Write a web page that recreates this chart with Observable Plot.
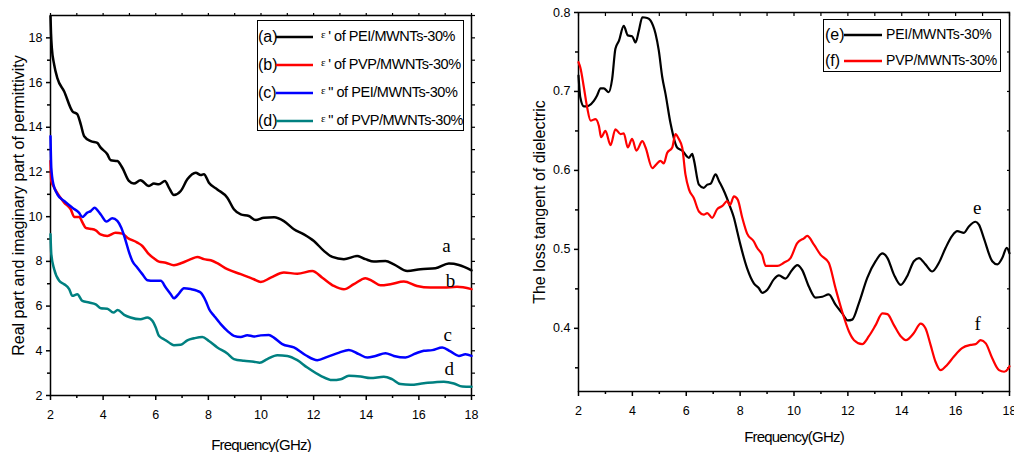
<!DOCTYPE html>
<html>
<head>
<meta charset="utf-8">
<script src="https://cdn.jsdelivr.net/npm/d3@7"></script>
<script src="https://cdn.jsdelivr.net/npm/@observablehq/plot@0.6"></script>
<style>
  html, body { margin: 0; padding: 0; background: #fff; }
  #figure { position: relative; width: 1014px; height: 452px; overflow: hidden;
            font-family: "Liberation Sans", Arial, sans-serif; }
  #figure > svg { position: absolute; top: 0; }
  #figure [aria-label="x-axis label"] text { letter-spacing: -0.8px; }
  .legend { position: absolute; border: 1px solid #000; background: #fff; box-sizing: border-box; }
  .legend .row { position: absolute; left: 0; right: 0; display: block; }
  .legend .key { position: absolute; top: 0; line-height: 1; }
  .legend svg { position: absolute; top: 0; }
  .legend .txt { position: absolute; top: 0; white-space: nowrap; color: #000; line-height: 1; }
  .legend .eps { font-family: "Liberation Serif", "Times New Roman", serif; font-size: 11px;
                 position: relative; top: -3px; margin-right: 3px; }
</style>
</head>
<body>
<div id="figure"></div>
<script>
// ---------- left panel: permittivity, (frequency GHz, value) ----------
const epsRealPEI = [[2.0,18.97],[2.02,18.2],[2.05,17.55],[2.14,16.8],[2.26,16.2],[2.52,15.6],[2.83,14.72],[3.02,14.58],[3.15,14.13],[3.28,13.6],[3.53,13.38],[3.78,13.3],[3.9,13.1],[4.16,12.79],[4.29,12.52],[4.54,12.49],[4.73,12.19],[4.98,11.6],[5.17,11.48],[5.42,11.63],[5.74,11.37],[5.93,11.48],[6.12,11.45],[6.35,11.6],[6.5,11.3],[6.69,10.97],[6.95,11.15],[7.2,11.67],[7.52,11.97],[7.71,11.86],[7.83,11.9],[8.02,11.52],[8.34,11.22],[8.72,10.85],[8.97,10.33],[9.23,10.1],[9.54,10.03],[9.8,9.85],[10.11,9.95],[10.5,9.97],[10.87,9.8],[11.25,9.44],[11.63,9.21],[12.01,8.91],[12.39,8.47],[12.71,8.2],[13.15,8.1],[13.66,8.24],[13.97,8.1],[14.29,7.99],[14.73,8.02],[15.05,7.87],[15.56,7.57],[16.06,7.65],[16.63,7.69],[17.14,7.9],[17.52,7.84],[18.0,7.6]];
const epsRealPVP = [[2.0,12.49],[2.03,11.6],[2.14,11.3],[2.33,10.93],[2.52,10.63],[2.77,10.33],[2.9,9.99],[3.09,9.99],[3.21,9.75],[3.34,9.5],[3.5,9.46],[3.72,9.39],[3.9,9.21],[4.16,9.14],[4.47,9.28],[4.73,9.24],[4.92,9.06],[5.3,8.84],[5.49,8.69],[5.74,8.32],[5.93,8.14],[6.12,7.99],[6.38,7.94],[6.69,7.83],[7.01,7.94],[7.33,8.1],[7.58,8.2],[7.83,8.1],[8.09,8.05],[8.34,7.92],[8.72,7.65],[9.23,7.43],[9.73,7.2],[9.99,7.08],[10.37,7.27],[10.87,7.5],[11.38,7.45],[11.95,7.57],[12.33,7.27],[12.77,6.9],[13.15,6.75],[13.53,6.98],[13.97,7.25],[14.22,7.13],[14.54,6.93],[14.92,6.98],[15.43,7.1],[15.93,6.9],[16.44,6.83],[16.95,6.83],[17.45,6.86],[18.0,6.76]];
const epsImagPEI = [[2.0,13.6],[2.03,12.19],[2.11,11.45],[2.26,11.0],[2.52,10.7],[2.83,10.4],[3.08,10.18],[3.21,9.99],[3.4,10.18],[3.53,10.25],[3.68,10.4],[3.78,10.29],[3.91,10.1],[4.13,9.78],[4.35,9.93],[4.54,9.81],[4.69,9.5],[4.86,8.91],[4.99,8.39],[5.11,8.02],[5.3,7.72],[5.49,7.43],[5.68,7.16],[5.93,7.13],[6.19,7.13],[6.38,6.83],[6.57,6.53],[6.69,6.35],[6.88,6.56],[7.07,6.8],[7.33,6.76],[7.58,6.68],[7.71,6.6],[7.9,6.23],[8.03,5.86],[8.22,5.56],[8.47,5.19],[8.72,4.89],[8.97,4.67],[9.23,4.62],[9.48,4.7],[9.73,4.64],[9.99,4.69],[10.3,4.71],[10.49,4.59],[10.81,4.3],[11.25,4.15],[11.7,3.8],[12.14,3.58],[12.52,3.73],[12.97,3.92],[13.34,4.04],[13.72,3.85],[14.04,3.7],[14.35,3.77],[14.73,3.89],[15.05,3.77],[15.49,3.7],[15.87,3.88],[16.19,4.0],[16.51,4.03],[16.89,4.15],[17.2,3.97],[17.52,3.77],[17.77,3.85],[18.0,3.77]];
const epsImagPVP = [[2.0,9.21],[2.03,8.32],[2.14,7.65],[2.33,7.13],[2.52,6.98],[2.71,6.76],[2.83,6.46],[3.02,6.53],[3.21,6.23],[3.47,6.16],[3.72,6.08],[3.91,5.9],[4.16,5.88],[4.39,5.71],[4.55,5.82],[4.8,5.61],[5.04,5.49],[5.42,5.41],[5.68,5.49],[5.87,5.34],[6.0,5.04],[6.12,4.67],[6.31,4.52],[6.5,4.37],[6.69,4.25],[6.95,4.27],[7.2,4.47],[7.46,4.56],[7.77,4.62],[8.02,4.44],[8.34,4.15],[8.72,3.88],[8.97,3.63],[9.35,3.55],[9.73,3.51],[9.95,3.47],[10.24,3.63],[10.62,3.8],[11.0,3.77],[11.38,3.58],[11.76,3.25],[12.27,2.88],[12.71,2.69],[13.03,2.73],[13.34,2.88],[13.78,2.85],[14.16,2.78],[14.67,2.84],[14.98,2.73],[15.3,2.51],[15.68,2.48],[16.19,2.55],[16.95,2.62],[17.33,2.54],[17.65,2.4],[18.0,2.39]];

// ---------- right panel: loss tangent ----------
const tanPEI = [[2.0,0.72],[2.07,0.692],[2.2,0.681],[2.38,0.682],[2.57,0.688],[2.69,0.695],[2.82,0.704],[2.94,0.704],[3.12,0.699],[3.25,0.716],[3.37,0.754],[3.5,0.764],[3.68,0.783],[3.83,0.771],[3.99,0.77],[4.12,0.762],[4.24,0.777],[4.37,0.794],[4.55,0.793],[4.67,0.79],[4.86,0.773],[4.98,0.752],[5.11,0.718],[5.23,0.697],[5.42,0.659],[5.66,0.629],[5.85,0.625],[6.1,0.616],[6.22,0.621],[6.28,0.614],[6.47,0.582],[6.65,0.578],[6.78,0.582],[6.9,0.583],[7.09,0.595],[7.21,0.587],[7.4,0.574],[7.64,0.553],[7.77,0.54],[7.89,0.523],[8.01,0.506],[8.26,0.476],[8.51,0.457],[8.69,0.451],[8.82,0.445],[9.01,0.449],[9.25,0.462],[9.44,0.467],[9.68,0.463],[9.93,0.474],[10.12,0.48],[10.3,0.474],[10.55,0.453],[10.8,0.439],[11.05,0.44],[11.29,0.443],[11.54,0.43],[11.79,0.419],[12.0,0.41],[12.16,0.411],[12.41,0.432],[12.72,0.464],[13.03,0.485],[13.28,0.495],[13.47,0.489],[13.71,0.468],[13.96,0.455],[14.2,0.466],[14.45,0.485],[14.64,0.489],[14.88,0.481],[15.13,0.472],[15.38,0.483],[15.63,0.502],[15.87,0.517],[16.06,0.523],[16.31,0.521],[16.49,0.529],[16.74,0.535],[16.87,0.531],[17.05,0.514],[17.36,0.485],[17.55,0.481],[17.73,0.489],[17.9,0.502],[18.0,0.495]];
const tanPVP = [[2.0,0.737],[2.07,0.73],[2.2,0.705],[2.32,0.68],[2.45,0.663],[2.63,0.665],[2.76,0.656],[2.84,0.642],[3.0,0.65],[3.19,0.632],[3.37,0.652],[3.56,0.646],[3.68,0.647],[3.83,0.629],[3.99,0.64],[4.15,0.625],[4.37,0.637],[4.49,0.629],[4.74,0.603],[4.9,0.608],[5.04,0.612],[5.17,0.609],[5.29,0.622],[5.48,0.629],[5.6,0.646],[5.72,0.64],[5.85,0.629],[5.97,0.595],[6.1,0.576],[6.28,0.565],[6.47,0.548],[6.65,0.544],[6.78,0.546],[6.96,0.54],[7.15,0.551],[7.34,0.555],[7.52,0.561],[7.62,0.556],[7.77,0.567],[7.91,0.563],[8.08,0.54],[8.26,0.52],[8.51,0.51],[8.63,0.502],[8.82,0.493],[8.95,0.479],[9.13,0.479],[9.38,0.479],[9.62,0.483],[9.87,0.489],[10.12,0.508],[10.37,0.514],[10.49,0.517],[10.74,0.506],[10.99,0.493],[11.29,0.483],[11.54,0.451],[11.79,0.421],[12.04,0.396],[12.23,0.385],[12.53,0.38],[12.78,0.39],[13.03,0.404],[13.28,0.419],[13.47,0.418],[13.71,0.404],[13.96,0.39],[14.15,0.385],[14.45,0.394],[14.7,0.406],[14.88,0.4],[15.07,0.379],[15.25,0.358],[15.44,0.347],[15.69,0.354],[15.93,0.364],[16.24,0.375],[16.56,0.379],[16.74,0.38],[16.93,0.385],[17.12,0.381],[17.36,0.362],[17.61,0.347],[17.8,0.345],[17.95,0.349],[18.0,0.352]];

// series styling and legend entries
const leftKeys    = ["(a)", "(b)", "(c)", "(d)"];
const leftPrimes  = ["'", "'", "\"", "\""];
const leftNames   = ["of PEI/MWNTs-30%", "of PVP/MWNTs-30%", "of PEI/MWNTs-30%", "of PVP/MWNTs-30%"];
const leftColors  = ["#000000", "#ff0000", "#0000ff", "#008080"];
const leftSeries  = [epsRealPEI, epsRealPVP, epsImagPEI, epsImagPVP];

const rightKeys   = ["(e)", "(f)"];
const rightNames  = ["PEI/MWNTs-30%", "PVP/MWNTs-30%"];
const rightColors = ["#000000", "#ff0000"];
const rightSeries = [tanPEI, tanPVP];

// curve tags placed next to the right-hand ends
const leftTags  = ["a", "b", "c", "d"];
const leftTagX  = [17.05, 17.2, 17.1, 17.15];
const leftTagY  = [8.71, 7.14, 4.72, 3.2];
const rightTags = ["e", "f"];
const rightTagX = [16.8, 16.82];
const rightTagY = [0.553, 0.405];

// ticks
const freqMajor  = [2, 4, 6, 8, 10, 12, 14, 16, 18];
const freqMinor  = [3, 5, 7, 9, 11, 13, 15, 17];
const freqAll    = d3.range(2, 19, 1);
const epsMajor   = [2, 4, 6, 8, 10, 12, 14, 16, 18];
const epsMinor   = [3, 5, 7, 9, 11, 13, 15, 17];
const epsAll     = d3.range(2, 20, 1);
const tanMajor   = [0.4, 0.5, 0.6, 0.7, 0.8];
const tanMinor   = [0.35, 0.45, 0.55, 0.65, 0.75];
const tanAll     = [0.35, 0.4, 0.45, 0.5, 0.55, 0.6, 0.65, 0.7, 0.75, 0.8];

const FONT = '"Liberation Sans", Arial, sans-serif';
const SERIF = '"Liberation Serif", "Times New Roman", serif';
const blank = () => "";

function seriesLines(series, colors, width) {
  return series.map((s, i) => Plot.line(s, {
    x: d => d[0], y: d => d[1], stroke: colors[i], strokeWidth: width,
    curve: "monotone-x", strokeLinejoin: "round"
  }));
}

function frameAxes({xMajor, xMinor, xTop, yMajor, yMinor, yRight, yFormat, xLabelOffset, yLabel, yLabelOffset, inward}) {
  const side = inward ? -3 : 3;
  return [
    Plot.frame({stroke: "#000", strokeWidth: 1.5}),
    Plot.axisX(xMajor, {tickSize: 5, tickPadding: 10, fontSize: 12.5, strokeWidth: 1.5, label: null}),
    Plot.axisX(xMinor, {tickSize: 3, tickFormat: blank, strokeWidth: 1.5, label: null}),
    Plot.axisX(xTop, {anchor: "top", tickSize: side, tickFormat: blank, strokeWidth: 1.2, label: null}),
    Plot.axisY(yMajor, {tickSize: 4, tickPadding: 4, fontSize: 12.5, strokeWidth: 1.5, tickFormat: yFormat, label: null}),
    Plot.axisY(yMinor, {tickSize: 3, tickFormat: blank, strokeWidth: 1.5, label: null}),
    Plot.axisY(yRight, {anchor: "right", tickSize: side, tickFormat: blank, strokeWidth: 1.2, label: null}),
    Plot.axisX([], {tickSize: 0, fontSize: 15, label: "Frequency(GHz)", labelAnchor: "center", labelArrow: "none", labelOffset: xLabelOffset}),
    Plot.axisY([], {tickSize: 0, fontSize: 16, label: yLabel, labelAnchor: "center", labelArrow: "none", labelOffset: yLabelOffset})
  ];
}

const figure = document.getElementById("figure");

const leftPlot = Plot.plot({
  width: 500, height: 452,
  marginLeft: 50, marginRight: 29, marginTop: 15, marginBottom: 57,
  style: {fontFamily: FONT, background: "transparent", color: "#000", overflow: "visible"},
  x: {domain: [2, 18]},
  y: {domain: [2, 19]},
  marks: [
    ...frameAxes({
      xMajor: freqMajor, xMinor: freqMinor, xTop: freqAll,
      yMajor: epsMajor, yMinor: epsMinor, yRight: epsAll, yFormat: d3.format("d"),
      xLabelOffset: 54, yLabel: "Real part and imaginary part of permittivity", yLabelOffset: 38, inward: false
    }),
    ...seriesLines(leftSeries, leftColors, 2.5),
    Plot.text(leftTags, {x: (d, i) => leftTagX[i], y: (d, i) => leftTagY[i], text: d => d,
      fontFamily: SERIF, fontSize: 19, fill: "#000"})
  ]
});
leftPlot.style.left = "0px";
figure.appendChild(leftPlot);

const rightPlot = Plot.plot({
  width: 514, height: 452,
  marginLeft: 78, marginRight: 5, marginTop: 12, marginBottom: 61,
  style: {fontFamily: FONT, background: "transparent", color: "#000", overflow: "visible"},
  x: {domain: [2, 18]},
  y: {domain: [0.32, 0.8]},
  marks: [
    ...frameAxes({
      xMajor: freqMajor, xMinor: freqMinor, xTop: freqAll,
      yMajor: tanMajor, yMinor: tanMinor, yRight: tanAll, yFormat: d3.format(".1f"),
      xLabelOffset: 50, yLabel: "The loss tangent of dielectric", yLabelOffset: 45, inward: true
    }),
    ...seriesLines(rightSeries, rightColors, 2.2),
    Plot.text(rightTags, {x: (d, i) => rightTagX[i], y: (d, i) => rightTagY[i], text: d => d,
      fontFamily: SERIF, fontSize: 19, fill: "#000"})
  ]
});
rightPlot.style.left = "500px";
figure.appendChild(rightPlot);

// ---------- legends drawn over the plot frames ----------
function buildLegend({left, top, width, height, pad, rowH, keyFont, keyX, lineX, lineW, textX, textSize, textSpacing, keys, colors, labels}) {
  const box = document.createElement("div");
  box.className = "legend";
  Object.assign(box.style, {left: left + "px", top: top + "px", width: width + "px", height: height + "px"});
  keys.forEach((k, i) => {
    const row = document.createElement("div");
    row.className = "row";
    row.style.top = (pad + i * rowH) + "px";
    row.style.height = rowH + "px";
    const mid = rowH / 2;
    row.innerHTML =
      `<span class="key" style="left:${keyX}px;top:${mid - 8}px;font-family:${keyFont};font-size:15px">${k}</span>` +
      `<svg width="${lineW}" height="${rowH}" style="left:${lineX}px"><line x1="0" x2="${lineW}" y1="${mid}" y2="${mid}" stroke="${colors[i]}" stroke-width="2.5"/></svg>` +
      `<span class="txt" style="left:${textX}px;top:${mid - 8}px;font-size:${textSize}px;letter-spacing:${textSpacing}px">${labels[i]}</span>`;
    box.appendChild(row);
  });
  figure.appendChild(box);
}

buildLegend({
  left: 257, top: 20, width: 207, height: 111, pad: 2, rowH: 28,
  keyFont: SERIF, keyX: 0, lineX: 18, lineW: 37, textX: 63, textSize: 14.5, textSpacing: -0.45,
  keys: leftKeys, colors: leftColors,
  labels: leftKeys.map((k, i) => `<span class="eps">ε</span>${leftPrimes[i]} ${leftNames[i]}`)
});

buildLegend({
  left: 823, top: 19, width: 178, height: 53, pad: 2, rowH: 26,
  keyFont: FONT, keyX: 1, lineX: 20, lineW: 38, textX: 62, textSize: 14, textSpacing: -0.2,
  keys: rightKeys, colors: rightColors, labels: rightNames
});
</script>
</body>
</html>
